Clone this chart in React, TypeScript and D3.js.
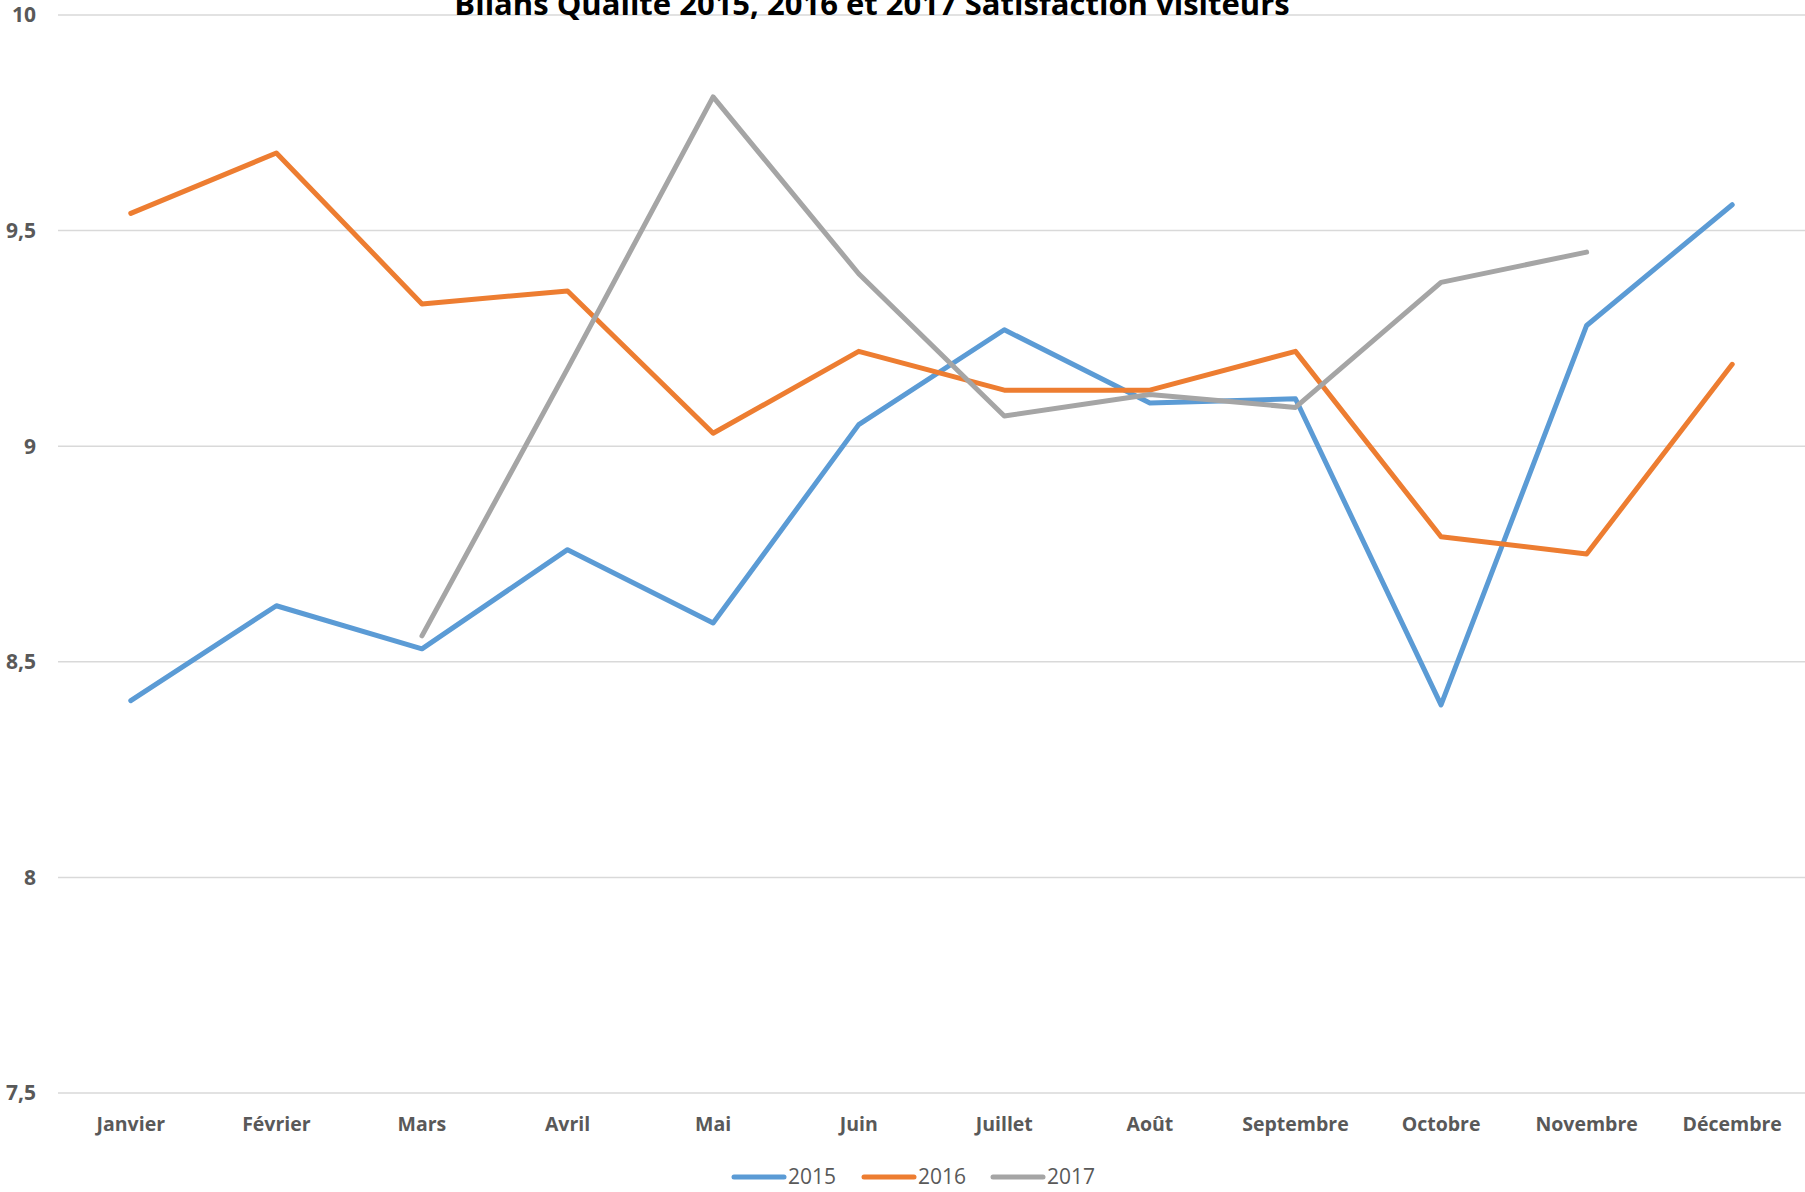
import React, { useEffect, useRef } from 'react';
import * as d3 from 'd3';

const months = ['Janvier', 'Février', 'Mars', 'Avril', 'Mai', 'Juin', 'Juillet', 'Août', 'Septembre', 'Octobre', 'Novembre', 'Décembre'];
const yTicks = [7.5, 8, 8.5, 9, 9.5, 10];

const values2015 = [8.41, 8.63, 8.53, 8.76, 8.59, 9.05, 9.27, 9.1, 9.11, 8.4, 9.28, 9.56];
const values2016 = [9.54, 9.68, 9.33, 9.36, 9.03, 9.22, 9.13, 9.13, 9.22, 8.79, 8.75, 9.19];
const values2017 = [null, null, 8.56, 9.18, 9.81, 9.4, 9.07, 9.12, 9.09, 9.38, 9.45, null];

const seriesNames = ['2015', '2016', '2017'];
const seriesColors = ['#5B9BD5', '#ED7D31', '#A5A5A5'];

const W = 1805;
const H = 1192;
const FONT = "'Open Sans', 'Noto Sans', sans-serif";

export default function App() {
  const ref = useRef<SVGSVGElement>(null);

  useEffect(() => {
    const svg = d3.select(ref.current);
    svg.selectAll('*').remove();

    const margin = { top: 15, right: 0, bottom: 99, left: 58 };
    const width = W - margin.left - margin.right;
    const height = H - margin.top - margin.bottom;

    const x = d3.scaleBand<string>().domain(months).range([0, width]);
    const y = d3.scaleLinear().domain([7.5, 10]).range([height, 0]);

    const g = svg.append('g').attr('transform', `translate(${margin.left},${margin.top})`);

    // gridlines
    g.selectAll('.grid')
      .data(yTicks)
      .enter().append('line')
      .attr('x1', 0)
      .attr('x2', width)
      .attr('y1', d => y(d))
      .attr('y2', d => y(d))
      .attr('stroke', '#D9D9D9')
      .attr('stroke-width', 1.5);

    // y labels
    g.selectAll('.ylab')
      .data(yTicks)
      .enter().append('text')
      .attr('x', -22)
      .attr('y', d => y(d))
      .attr('dy', '0.35em')
      .attr('text-anchor', 'end')
      .attr('font-family', FONT)
      .attr('font-weight', 'bold')
      .attr('font-size', 21)
      .attr('fill', '#595959')
      .text(d => String(d).replace('.', ','));

    // x labels
    g.selectAll('.xlab')
      .data(months)
      .enter().append('text')
      .attr('x', d => (x(d) as number) + x.bandwidth() / 2)
      .attr('y', height + 38)
      .attr('text-anchor', 'middle')
      .attr('font-family', FONT)
      .attr('font-weight', 'bold')
      .attr('font-size', 19.5)
      .attr('fill', '#595959')
      .text(d => d);

    const all = [values2015, values2016, values2017];
    const line = d3.line<number | null>()
      .defined(d => d !== null)
      .x((_, i) => (x(months[i]) as number) + x.bandwidth() / 2)
      .y(d => y(d as number));

    all.forEach((vals, i) => {
      g.append('path')
        .datum(vals)
        .attr('d', line)
        .attr('fill', 'none')
        .attr('stroke', seriesColors[i])
        .attr('stroke-width', 5)
        .attr('stroke-linejoin', 'round')
        .attr('stroke-linecap', 'round');
    });

    // title (cut off at the top edge, as in the original)
    svg.append('text')
      .attr('x', 872)
      .attr('y', 15)
      .attr('text-anchor', 'middle')
      .attr('font-family', FONT)
      .attr('font-weight', 'bold')
      .attr('font-size', 31)
      .attr('fill', '#000000')
      .text('Bilans Qualité 2015, 2016 et 2017 Satisfaction visiteurs');

    // legend
    const legendX = [732, 862, 991];
    const ly = 1177;
    seriesNames.forEach((name, i) => {
      const lg = svg.append('g').attr('transform', `translate(${legendX[i]},${ly})`);
      lg.append('line')
        .attr('x1', 2).attr('x2', 52)
        .attr('y1', 0).attr('y2', 0)
        .attr('stroke', seriesColors[i])
        .attr('stroke-width', 5)
        .attr('stroke-linecap', 'round');
      lg.append('text')
        .attr('x', 56)
        .attr('y', 0)
        .attr('dy', '0.35em')
        .attr('font-family', FONT)
        .attr('font-size', 21)
        .attr('fill', '#595959')
        .text(name);
    });
  }, []);

  return (
    <svg ref={ref} width={W} height={H} style={{ display: 'block', position: 'absolute', left: 0, top: 0 }} />
  );
}
